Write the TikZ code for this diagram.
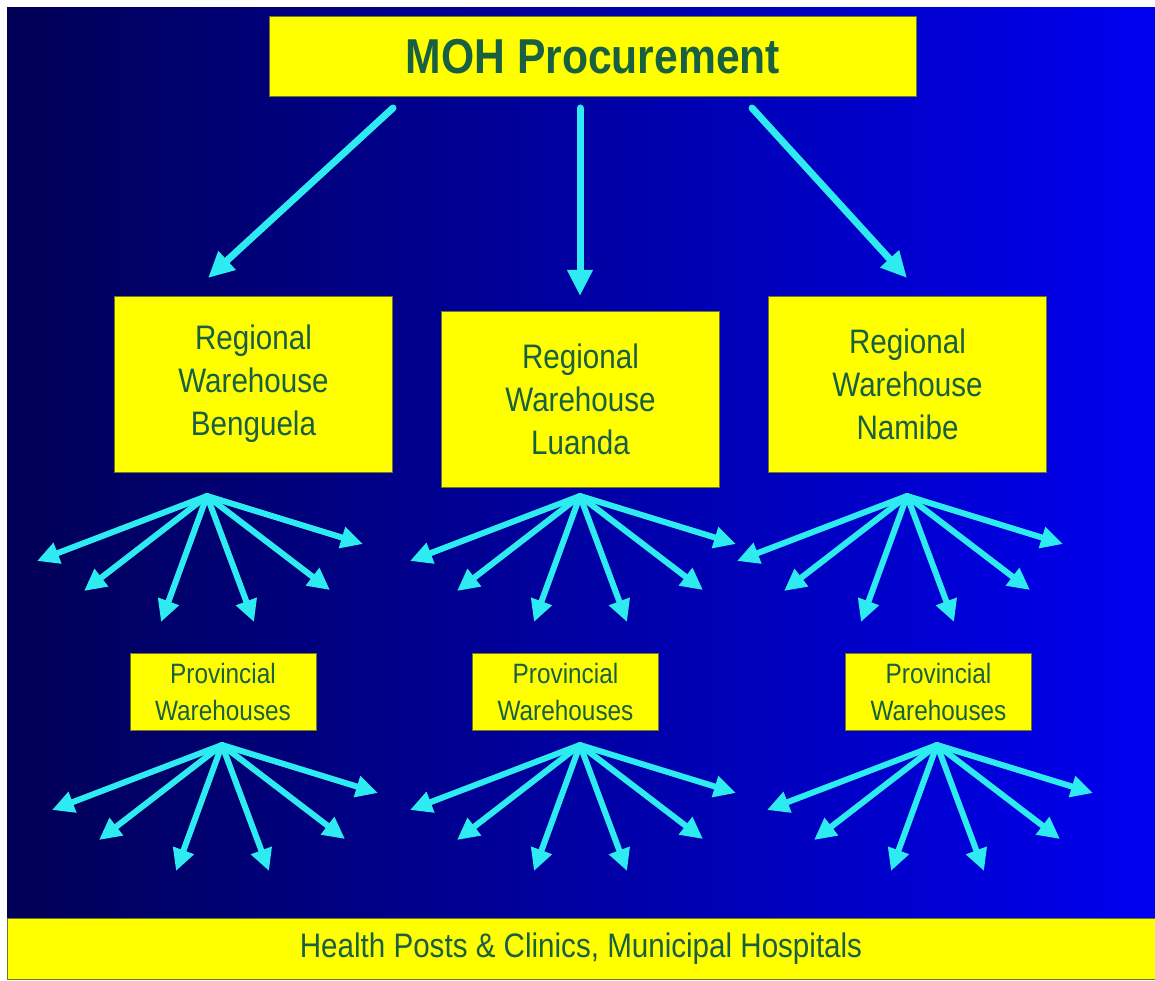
\documentclass[tikz,border=0pt]{standalone}
\usepackage{fontspec}
\setmainfont{Liberation Sans}[FakeStretch=0.87]
\usetikzlibrary{arrows.meta}
\definecolor{bgleft}{RGB}{0,0,85}
\definecolor{bgright}{RGB}{0,0,240}
\definecolor{boxyellow}{RGB}{255,255,0}
\definecolor{boxline}{RGB}{110,120,40}
\definecolor{labelgreen}{RGB}{25,95,65}
\definecolor{arrowcyan}{RGB}{45,235,240}

\begin{document}
\begin{tikzpicture}[x=1pt, y=-1pt,
    box/.style={fill=boxyellow, draw=boxline, line width=1pt, align=center, text=labelgreen, inner sep=0pt},
    regional/.style={box, minimum width=278pt, minimum height=176pt, font=\fontsize{34}{43}\selectfont},
    provincial/.style={box, minimum width=186pt, minimum height=77pt, font=\fontsize{28}{37}\selectfont},
    link/.style={draw=arrowcyan, line width=7pt, line cap=round, -{Triangle[length=26pt, width=24pt]}},
    fan/.style={draw=arrowcyan, line width=6pt, line cap=round, -{Triangle[length=22pt, width=21pt]}}]
    \useasboundingbox (0,0) rectangle (1155,981);
    \shade[left color=bgleft, right color=bgright] (7,8) rectangle (1155,918);

    \path (593,57)     node[box, minimum width=647pt, minimum height=80pt, font=\fontsize{49}{54}\bfseries\selectfont] (moh) {MOH Procurement};
    \path (253.5,384)  node[regional] (rwB) {Regional\\Warehouse\\Benguela};
    \path (580.5,399.5) node[regional] (rwL) {Regional\\Warehouse\\Luanda};
    \path (907.5,384)  node[regional] (rwN) {Regional\\Warehouse\\Namibe};
    \path (223,692)    node[provincial] (pwB) {Provincial\\Warehouses};
    \path (565.5,692)  node[provincial] (pwL) {Provincial\\Warehouses};
    \path (938.5,692)  node[provincial] (pwN) {Provincial\\Warehouses};
    \path (581,948.5)  node[box, minimum width=1148pt, minimum height=61pt, font=\fontsize{34}{40}\selectfont] (hp) {Health Posts \& Clinics, Municipal Hospitals};

    \path (393,108) coordinate (s1) (208,278) coordinate (e1);
    \path (580,108) coordinate (s2) (580,296) coordinate (e2);
    \path (752,108) coordinate (s3) (907,278) coordinate (e3);
    \draw[link] (s1) -- (e1);
    \draw[link] (s2) -- (e2);
    \draw[link] (s3) -- (e3);

    \path (207,496) coordinate (fanB) (580,496) coordinate (fanL) (907,496) coordinate (fanN);
    \path (222,745) coordinate (fanPB) (580,745) coordinate (fanPL) (937,745) coordinate (fanPN);
    \foreach \apex in {fanB, fanL, fanN, fanPB, fanPL, fanPN}
        \foreach \dx/\dy in {-170/65, -123/95, -46/126, 47/126, 123/94, 156/48} {
            \path (\apex) ++(\dx,\dy) coordinate (tip);
            \draw[fan] (\apex) -- (tip);
        }
\end{tikzpicture}
\end{document}
